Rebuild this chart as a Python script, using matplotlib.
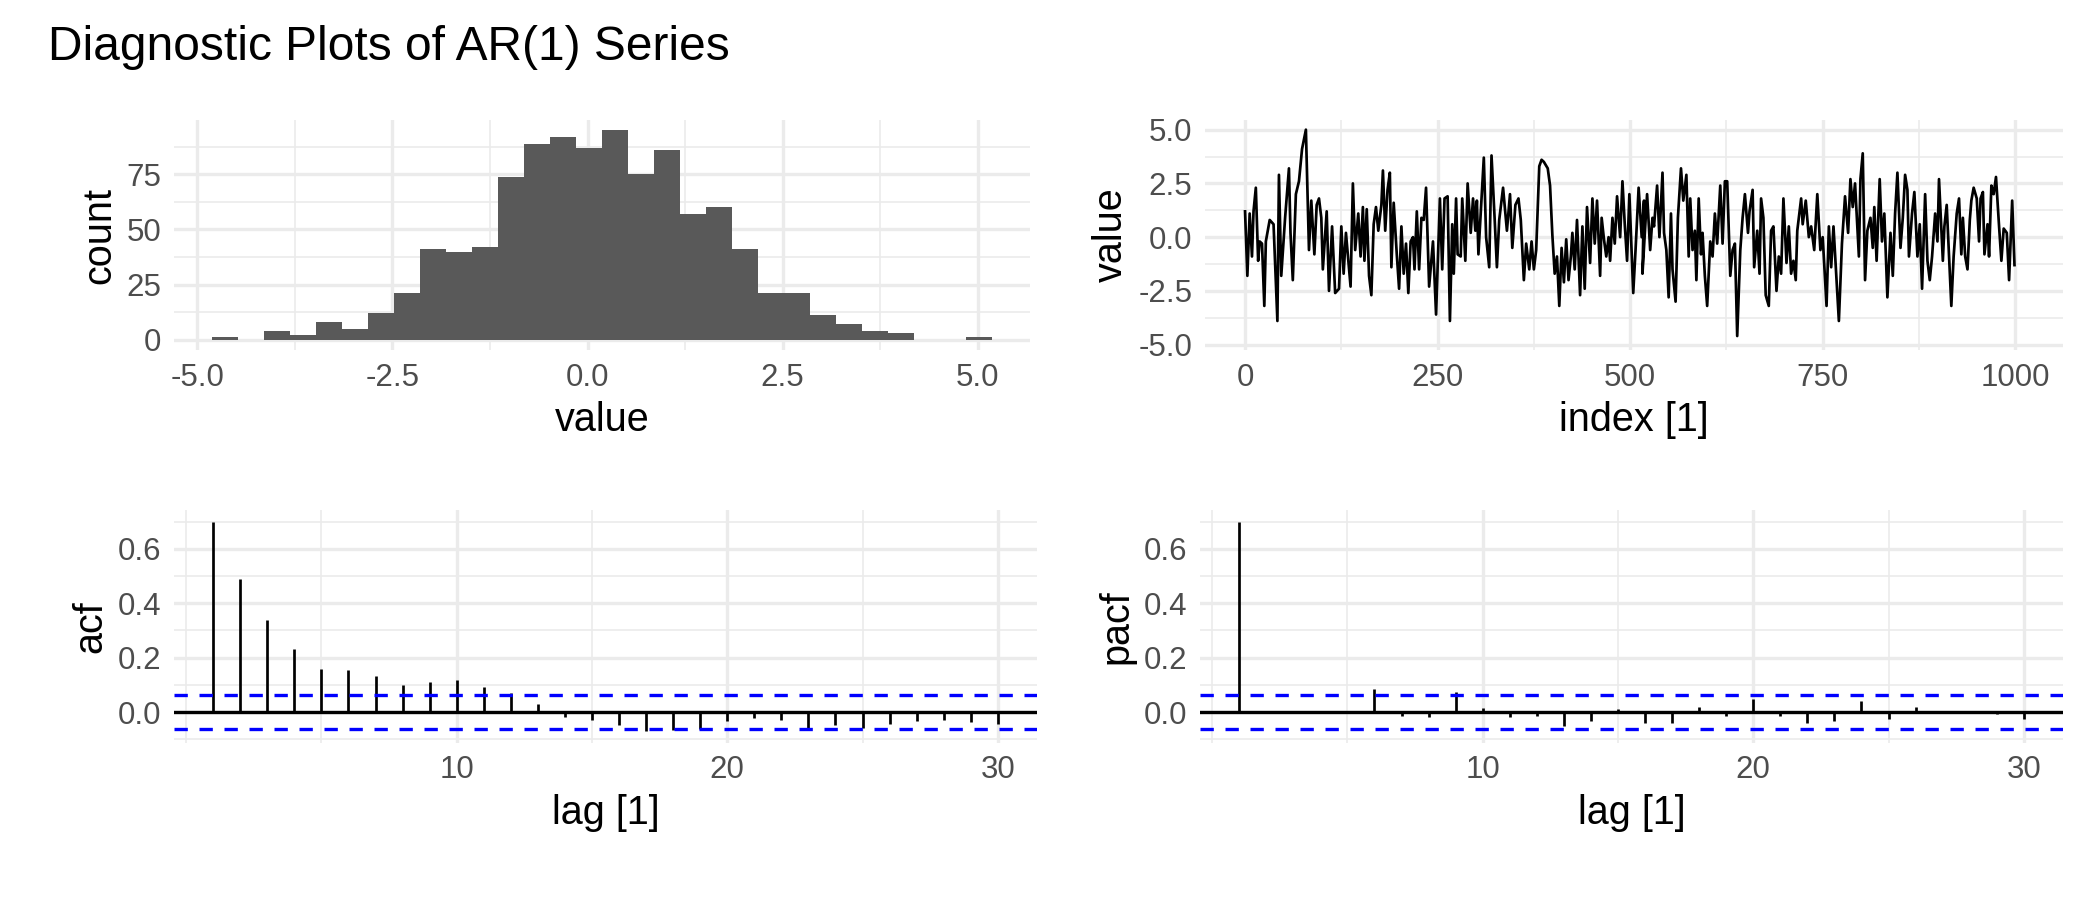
import numpy as np
import matplotlib
matplotlib.use("Agg")
import matplotlib.pyplot as plt
from matplotlib.ticker import FixedLocator

plt.rcParams.update({
    "font.family": ["Liberation Sans", "DejaVu Sans"],
    "axes.spines.top": False, "axes.spines.right": False,
    "axes.spines.left": False, "axes.spines.bottom": False,
})

# ---- histogram of the series (30 bins) ----
hist_start = -4.81
hist_width = 0.333
hist_counts = [1, 0, 4, 2, 8, 5, 12, 21, 41, 40, 42, 74, 89, 92, 87, 95,
               75, 86, 57, 60, 41, 21, 21, 11, 7, 4, 3, 0, 0, 1]

# ---- the series itself, read off at roughly every 3-4 steps ----
ts_index = [0, 3, 6, 9, 11, 14, 17, 19, 22, 25, 27, 32, 37, 42, 44, 47, 52, 57,
            59, 62, 66, 70, 74, 79, 83, 86, 90, 93, 96, 99, 101, 106, 109, 113, 117,
            122, 125, 128, 131, 137, 140, 143, 147, 150, 153, 155, 158, 161, 164,
            167, 170, 173, 177, 179, 182, 185, 188, 190, 193, 197, 200, 203, 206,
            209, 212, 215, 218, 220, 223, 226, 229, 232, 235, 239, 244, 248, 253,
            256, 259, 263, 266, 269, 271, 274, 276, 280, 282, 286, 289, 293, 296,
            299, 301, 303, 306, 310, 313, 317, 320, 324, 327, 330, 335, 340, 344,
            347, 351, 355, 358, 362, 365, 369, 372, 375, 378, 382, 385, 388, 393,
            396, 399, 402, 405, 408, 411, 414, 417, 420, 423, 425, 428, 431, 435,
            438, 441, 444, 448, 451, 454, 457, 461, 463, 466, 469, 472, 474, 477,
            480, 483, 487, 490, 493, 496, 499, 504, 507, 511, 515, 518, 516, 519,
            523, 526, 529, 531, 535, 538, 542, 544, 547, 550, 553, 555, 559, 562,
            566, 569, 573, 576, 578, 581, 584, 586, 589, 592, 594, 597, 600, 604,
            607, 610, 613, 617, 620, 623, 626, 630, 633, 636, 639, 643, 646, 649,
            653, 655, 659, 661, 665, 668, 670, 673, 676, 680, 683, 686, 690, 693,
            696, 699, 703, 706, 709, 712, 715, 717, 722, 724, 728, 732, 735, 739,
            743, 747, 750, 755, 758, 761, 764, 767, 771, 775, 779, 783, 786, 789,
            792, 797, 799, 802, 805, 808, 812, 815, 817, 820, 824, 827, 830, 834,
            838, 841, 844, 847, 851, 854, 857, 860, 862, 866, 869, 873, 876, 879,
            883, 886, 889, 892, 896, 899, 901, 906, 908, 911, 914, 917, 920, 924,
            927, 930, 932, 935, 938, 941, 943, 946, 950, 953, 955, 958, 960, 964,
            966, 969, 972, 975, 979, 982, 985, 989, 992, 996, 999]
ts_index[160:162] = [520, 522]  # keep the two steps after 518 in order
ts_value = [1.2, -1.8, 1.1, -0.9, 1.2, 2.3, -1.1, -0.2, -0.3, -3.2, -0.2, 0.8, 0.6,
            -3.9, 2.9, -1.8, 0.9, 3.2, 0.2, -2.0, 2.0, 2.6, 4.1, 5.0, -0.6, 1.7,
            -0.8, 1.5, 1.8, 0.9, -1.5, 1.2, -2.5, 0.5, -2.6, -2.4, 0.5, -1.7, 0.2,
            -2.3, 2.5, -0.6, 1.1, -0.9, 1.4, -1.1, 1.3, -1.8, -2.7, 0.6, 1.4, 0.3,
            1.5, 3.1, 0.3, 2.2, 3.0, -1.4, 1.6, -0.8, -2.4, 0.5, -1.7, -0.3, -2.6,
            -0.2, 0.0, -1.5, 1.2, -1.5, 0.9, 0.8, 2.3, -2.3, -0.2, -3.6, 1.8, -1.5,
            1.8, 1.9, -3.9, 0.6, -1.7, 1.8, -0.8, -0.9, 1.8, -1.1, 2.5, 0.2, 1.8,
            0.3, 1.7, -0.8, 1.1, 3.7, 0.0, -1.4, 3.8, 0.9, -1.4, 0.8, 2.3, 0.3,
            2.0, -0.5, 1.5, 1.8, 0.8, -2.0, -0.3, -1.5, -0.2, -1.5, -0.6, 3.3, 3.6,
            3.5, 3.2, 2.4, 0.1, -1.7, -0.9, -3.2, -0.5, -2.1, -0.1, -2.0, -0.9,
            0.2, -1.5, 0.8, -2.7, 0.5, -2.4, 1.4, -1.2, 1.8, -0.3, 1.7, -1.8, 0.9,
            -0.1, -0.9, 0.0, -1.1, 0.9, -0.3, 1.9, 0.0, 2.6, 0.6, -1.1, 2.0, -2.6,
            -0.6, 2.3, 0.0, 1.7, -1.7, 0.8, 2.0, -0.6, 0.9, 0.5, 2.4, 0.0, 3.0,
            0.2, -0.6, -2.8, 1.1, -1.5, -3.0, 0.9, 3.2, 1.7, 2.9, -0.9, 1.8, -0.6,
            0.3, -2.0, 1.8, -0.8, 0.2, -1.8, -3.2, -0.2, -0.9, 1.1, -0.3, 2.4,
            -0.3, 2.6, 2.6, -1.8, -0.6, -0.3, -4.6, -0.6, 0.9, 2.0, 0.2, 1.2, 2.2,
            -1.4, 0.3, -1.7, 1.8, 0.9, -2.7, -3.2, 0.3, 0.5, -2.5, -0.9, -1.7, 1.8,
            -1.2, 0.5, -1.7, -1.1, -2.0, 0.3, 1.8, 0.6, 1.7, 0.0, 0.5, -0.6, 2.0,
            -0.6, 0.0, -3.2, 0.5, -1.4, 0.5, -1.4, -3.9, -0.3, 1.9, 0.2, 2.7, 1.4,
            2.5, -0.9, 2.7, 3.9, -2.0, 0.3, 0.9, -0.5, 1.4, -1.1, 2.7, -0.2, 1.1,
            -2.8, 0.2, -1.8, 1.1, 3.0, -0.5, 0.9, 2.9, 2.2, -0.9, 1.1, 2.1, -0.9,
            0.6, -2.4, 2.0, -1.1, -2.0, -0.9, 1.1, -0.2, 2.7, -1.1, 0.5, 1.5, -0.9,
            -3.2, -0.9, 1.1, 1.8, -0.8, 0.9, -0.9, -1.5, 0.8, 1.7, 2.3, 1.8, -0.2,
            1.8, 2.1, -0.8, 0.6, -0.9, 2.4, 2.0, 2.8, 0.5, -1.1, 0.4, 0.2, -2.0,
            1.7, -1.3]

# ---- autocorrelations ----
lags = list(range(1, 31))
acf_vals = [0.70, 0.49, 0.337, 0.23, 0.16, 0.156, 0.133, 0.10, 0.112, 0.116,
            0.093, 0.071, 0.028, -0.018, -0.03, -0.049, -0.07, -0.065, -0.061,
            -0.033, -0.021, -0.028, -0.058, -0.049, -0.058, -0.045, -0.033,
            -0.03, -0.037, -0.043]
pacf_vals = [0.70, 0.002, -0.004, 0.001, -0.003, 0.086, -0.015, -0.02, 0.075,
             0.013, -0.02, -0.015, -0.053, -0.034, 0.011, -0.041, -0.039, 0.017,
             -0.015, 0.048, -0.015, -0.039, -0.034, 0.041, -0.027, 0.019, 0.003,
             -0.005, -0.008, -0.025]
ci = 0.062

W, H = 2100, 900
fig = plt.figure(figsize=(14, 6), dpi=150)

def px_axes(l, t, r, b):
    return fig.add_axes([l / W, 1 - b / H, (r - l) / W, (b - t) / H])

def style(ax, xmaj, xmin, ymaj, ymin, xlabels=None, ylabels=None):
    ax.xaxis.set_major_locator(FixedLocator(xmaj))
    ax.xaxis.set_minor_locator(FixedLocator(xmin))
    ax.yaxis.set_major_locator(FixedLocator(ymaj))
    ax.yaxis.set_minor_locator(FixedLocator(ymin))
    if xlabels: ax.set_xticklabels(xlabels)
    if ylabels: ax.set_yticklabels(ylabels)
    ax.grid(which="major", color="#EBEBEB", lw=1.6)
    ax.grid(which="minor", color="#EBEBEB", lw=0.8)
    ax.set_axisbelow(True)
    ax.tick_params(which="both", length=0, labelsize=15, labelcolor="#4D4D4D", pad=6)

title_kw = dict(fontsize=19, color="black")
fig.text(48 / W, 1 - 48 / H, "Diagnostic Plots of AR(1) Series", fontsize=23,
         va="center", ha="left")

# histogram
ax = px_axes(174, 120, 1030, 350)
edges = [hist_start + i * hist_width for i in range(len(hist_counts) + 1)]
ax.stairs(hist_counts, edges, fill=True, color="#595959")
ax.set_xlim(-5.3, 5.67)
ax.set_ylim(-4.75, 99.75)
style(ax, [-5, -2.5, 0, 2.5, 5], [-3.75, -1.25, 1.25, 3.75], [0, 25, 50, 75],
      [12.5, 37.5, 62.5, 87.5], xlabels=["-5.0", "-2.5", "0.0", "2.5", "5.0"])
ax.set_xlabel("value", **title_kw)
ax.set_ylabel("count", **title_kw)

# time series
ax = px_axes(1205, 120, 2063, 350)
ax.plot(ts_index, ts_value, color="black", lw=1.3)
ax.set_xlim(-52, 1062)
ax.set_ylim(-5.25, 5.45)
style(ax, [0, 250, 500, 750, 1000], [125, 375, 625, 875],
      [-5, -2.5, 0, 2.5, 5], [-3.75, -1.25, 1.25, 3.75],
      ylabels=["-5.0", "-2.5", "0.0", "2.5", "5.0"])
ax.set_xlabel("index [1]", **title_kw)
ax.set_ylabel("value", **title_kw)

# acf / pacf
for (l, r), vals, name in [((174, 1037), acf_vals, "acf"),
                           ((1200, 2063), pacf_vals, "pacf")]:
    ax = px_axes(l, 510, r, 743)
    ax.vlines(lags, 0, vals, color="black", lw=1.3)
    ax.axhline(0, color="black", lw=1.6)
    for c in (ci, -ci):
        ax.axhline(c, color="blue", lw=1.6, ls=(0, (4, 3.5)))
    ax.set_xlim(-0.45, 31.45)
    ax.set_ylim(-0.114, 0.743)
    style(ax, [10, 20, 30], [0, 5, 15, 25], [0, 0.2, 0.4, 0.6],
          [-0.1, 0.1, 0.3, 0.5, 0.7], ylabels=["0.0", "0.2", "0.4", "0.6"])
    ax.set_xlabel("lag [1]", **title_kw)
    ax.set_ylabel(name, **title_kw)

fig.savefig("out.png", dpi=150)
